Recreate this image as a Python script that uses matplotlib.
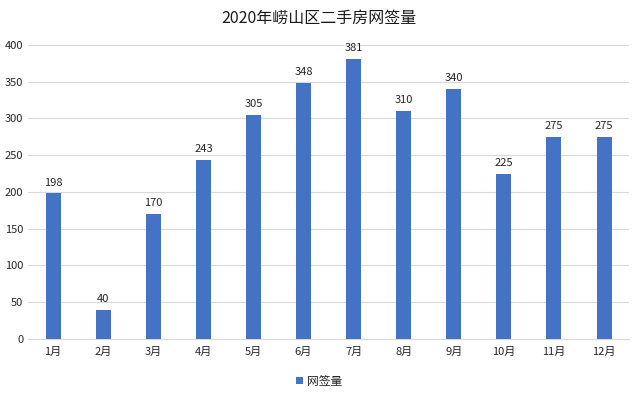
import matplotlib.pyplot as plt
import numpy as np

plt.rcParams['font.family'] = ['Noto Sans CJK SC', 'DejaVu Sans']

months = ['1月', '2月', '3月', '4月', '5月', '6月', '7月', '8月', '9月', '10月', '11月', '12月']
signed = [198, 40, 170, 243, 305, 348, 381, 310, 340, 225, 275, 275]
series_name = '网签量'
title = '2020年崂山区二手房网签量'

fig = plt.figure(figsize=(6.38, 3.97), dpi=100)
ax = fig.add_axes([0.044, 0.146, 0.942, 0.741])

x = np.arange(len(months))
bars = ax.bar(x, signed, width=0.3, color='#4472C4', label=series_name, zorder=3)
for xi, v in zip(x, signed):
    ax.text(xi, v + 8, str(v), ha='center', va='bottom', fontsize=8, color='#262626')

ax.set_xlim(-0.5, len(months) - 0.5)
ax.set_ylim(0, 400)
ax.set_yticks(range(0, 401, 50))
ax.set_xticks(x)
ax.set_xticklabels(months)
ax.tick_params(axis='both', length=0, labelsize=8, colors='#262626')
ax.tick_params(axis='x', pad=6)
ax.grid(axis='y', color='#D9D9D9', linewidth=0.8, zorder=0)
for s in ['top', 'right', 'left']:
    ax.spines[s].set_visible(False)
ax.spines['bottom'].set_color('#D9D9D9')

fig.text(0.5, 0.955, title, ha='center', va='center', fontsize=11.5, color='#1a1a1a')
fig.legend(handles=[bars], labels=[series_name], loc='center', bbox_to_anchor=(0.5, 0.04),
           frameon=False, fontsize=8.5, handlelength=0.6, handleheight=0.6, handletextpad=0.3,
           labelcolor='#262626')

fig.savefig('out.png', dpi=100)
